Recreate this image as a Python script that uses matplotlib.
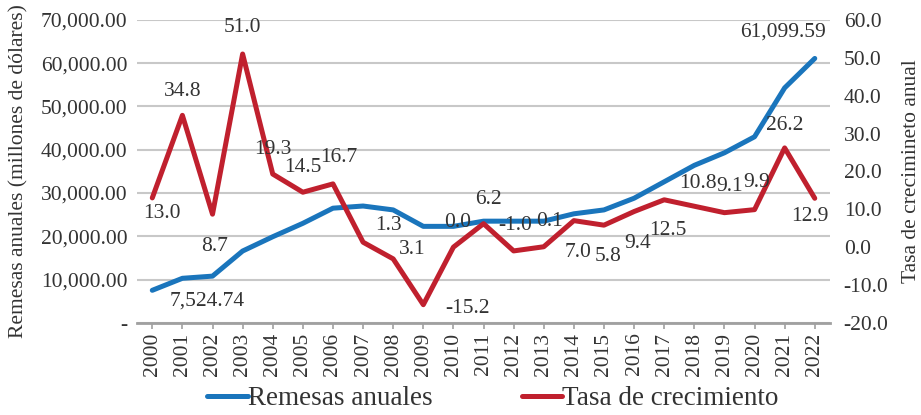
import matplotlib
matplotlib.use("Agg")
import matplotlib.pyplot as plt
from matplotlib.ticker import FuncFormatter, MultipleLocator

years = list(range(2000, 2023))
remesas = [7524.74, 10300, 10800, 16600, 19900, 23000, 26500, 27000, 26100,
           22300, 22300, 23500, 23500, 23500, 25200, 26100, 28800, 32600,
           36400, 39300, 43000, 54300, 61099.59]
tasa = [13.0, 34.8, 8.7, 51.0, 19.3, 14.5, 16.7, 1.3, -3.1, -15.2, 0.0, 6.2,
        -1.0, 0.1, 7.0, 5.8, 9.4, 12.5, 10.8, 9.1, 9.9, 26.2, 12.9]
tasa_labels = ["13.0", "34.8", "8.7", "51.0", "19.3", "14.5", "16.7", "1.3",
               "3.1", "-15.2", "0.0", "6.2", "-1.0", "0.1", "7.0", "5.8",
               "9.4", "12.5", "10.8", "9.1", "9.9", "26.2", "12.9"]
# label offsets in pixels (dx right, dy up)
tasa_offsets = [(10, -16), (0, 24), (2, -32), (0, 27), (0, 25), (0, 25),
                (6, 26), (25, 17), (19, 9), (44, -4), (4, 25), (5, 24),
                (2, 25), (6, 25), (4, -32), (4, -31), (4, -32), (4, -31),
                (4, 23), (5, 26), (2, 27), (0, 22), (-5, -18)]

plt.rcParams['font.family'] = ['Liberation Serif', 'DejaVu Serif']
BLUE = "#1a75bc"
RED = "#c0202e"
TXT = "#333333"
FS = 15.5

fig = plt.figure(figsize=(9.21, 4.15), dpi=100)
ax = fig.add_axes([0.149, 0.222, 0.752, 0.730])
ax2 = ax.twinx()

x = list(range(len(years)))
l1, = ax.plot(x, remesas, color=BLUE, lw=3.6, solid_capstyle='round', zorder=3)
l2, = ax2.plot(x, tasa, color=RED, lw=3.6, solid_capstyle='round', zorder=3)

ax.set_xlim(-0.5, len(years) - 0.5)
ax.set_ylim(0, 70000)
ax.yaxis.set_major_locator(MultipleLocator(10000))
ax.yaxis.set_major_formatter(FuncFormatter(lambda v, p: "-" if v == 0 else f"{v:,.2f}"))
ax2.set_ylim(-20, 60)
ax2.yaxis.set_major_locator(MultipleLocator(10))
ax2.yaxis.set_major_formatter(FuncFormatter(lambda v, p: f"{v:.1f}"))

ax.set_xticks(x)
ax.set_xticklabels([str(y) for y in years], rotation=90)
ax.grid(axis='y', color="#c8c8c8", lw=1.5)
ax.set_axisbelow(True)
for a in (ax, ax2):
    for s in ("top", "left", "right", "bottom"):
        a.spines[s].set_visible(False)
ax.spines["bottom"].set_visible(True)
ax.spines["bottom"].set_color("#a0a0a0")
ax.spines["bottom"].set_linewidth(2)

ax.tick_params(axis='y', length=0, labelsize=FS, labelcolor=TXT, pad=7)
ax2.tick_params(axis='y', length=0, labelsize=FS, labelcolor=TXT, pad=10)
ax.tick_params(axis='x', length=4, width=1.2, color="#a0a0a0", labelsize=FS,
               labelcolor=TXT, pad=3)

ax.set_ylabel("Remesas anuales (millones de dólares)", fontsize=FS, color=TXT, labelpad=9)
ax2.set_ylabel("Tasa de crecimineto anual", fontsize=FS, color=TXT, labelpad=10)

px = 72 / 100
for xi, v, lab, (dx, dy) in zip(x, tasa, tasa_labels, tasa_offsets):
    ax2.annotate(lab, (xi, v), xytext=(dx * px, dy * px), textcoords="offset points",
                 ha="center", va="center", fontsize=FS, color=TXT, zorder=5)

ax.annotate(f"{remesas[0]:,.2f}", (x[0], remesas[0]), xytext=(55 * px, -11 * px),
            textcoords="offset points", ha="center", va="center", fontsize=FS, color=TXT)
ax.annotate(f"{remesas[-1]:,.2f}", (x[-1], remesas[-1]), xytext=(-32 * px, 26 * px),
            textcoords="offset points", ha="center", va="center", fontsize=FS, color=TXT)

fig.legend([l1, l2], ["Remesas anuales", "Tasa de crecimiento"], loc="lower center",
           bbox_to_anchor=(0.535, -0.05), ncol=2, frameon=False, fontsize=19.5,
           handlelength=1.5, handletextpad=0.0, columnspacing=3.3, labelcolor=TXT)

fig.savefig("out.png", dpi=100)
